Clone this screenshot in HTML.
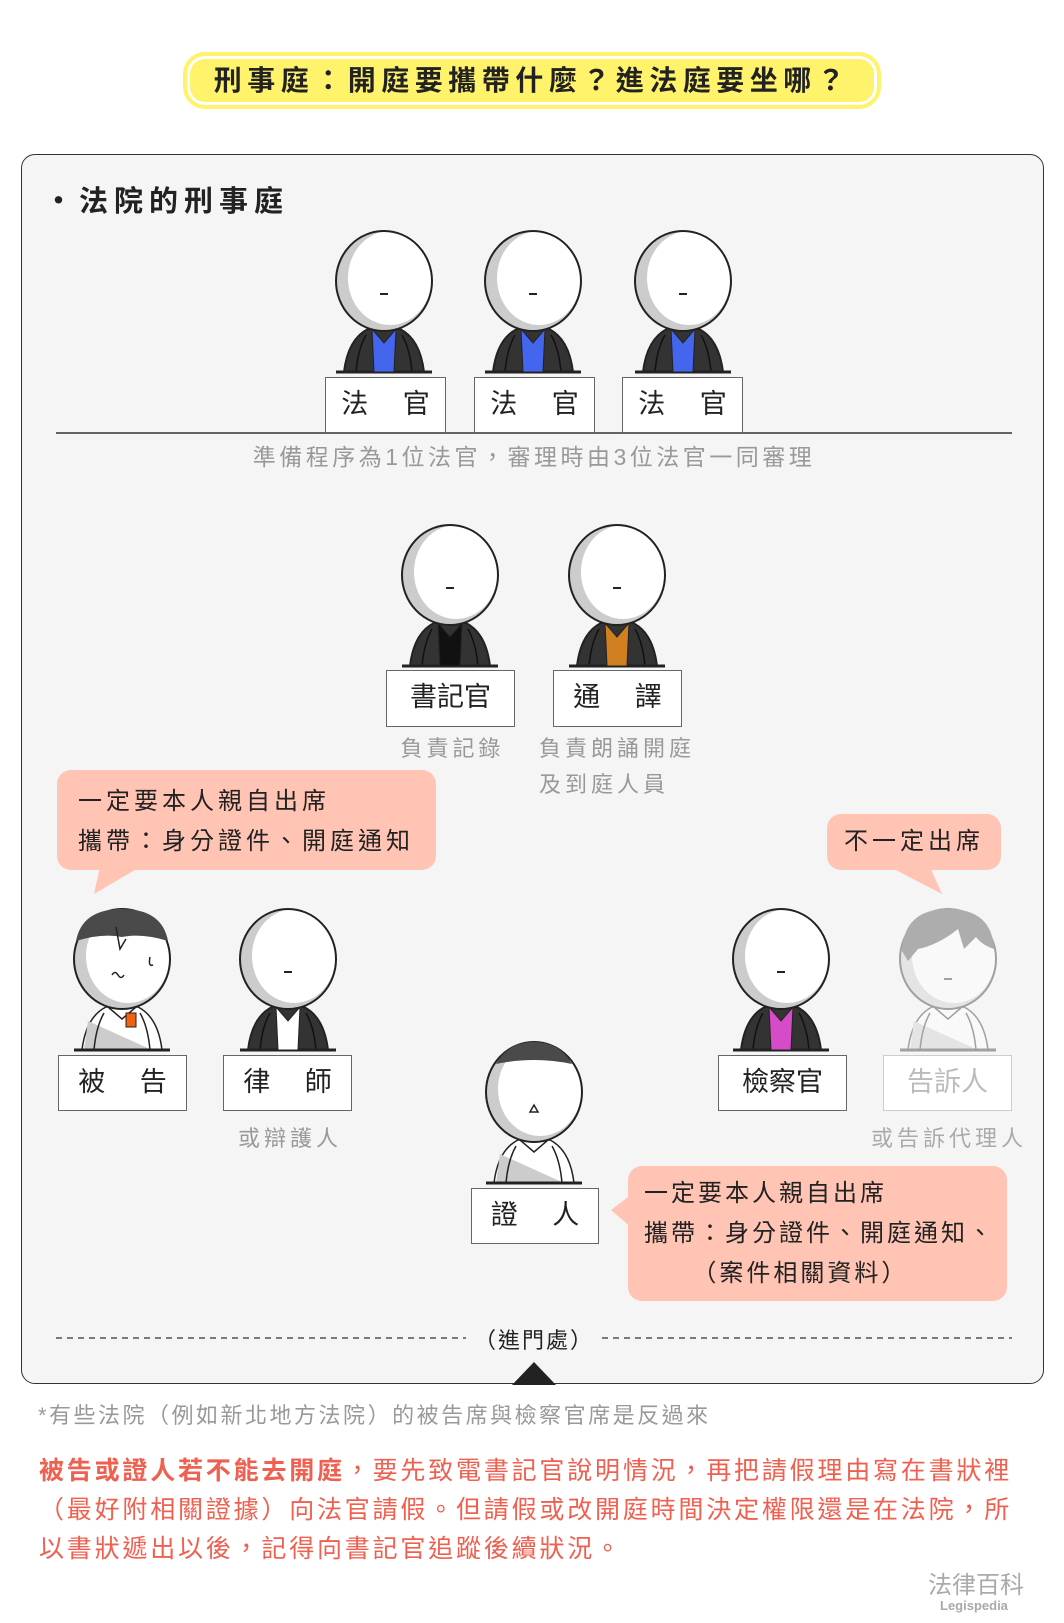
<!DOCTYPE html>
<html><head><meta charset="utf-8"><style>
body{margin:0;width:1064px;height:1623px;background:#fff;position:relative;font-family:"Liberation Sans","Noto Sans CJK TC",sans-serif;overflow:hidden}
.a{position:absolute;white-space:nowrap}
.title{left:183px;top:52px;width:698px;height:57px;box-sizing:border-box;background:#fff36b;border:4px solid #fff36b;border-radius:22px;box-shadow:inset 0 0 0 3px #fff;}
.title span{position:absolute;left:0;right:0;top:0;line-height:50px;text-align:center;font-size:28px;font-weight:bold;color:#222;letter-spacing:5.5px}
.card{left:21px;top:154px;width:1023px;height:1230px;box-sizing:border-box;background:#f5f5f5;border:1.5px solid #333;border-radius:14px}
.box{position:absolute;background:#fff;border:1.5px solid #666;box-sizing:border-box;font-size:27px;color:#222;text-align:center;line-height:52px}
.g{color:#999;font-size:22px;letter-spacing:4px}
.bub{position:absolute;background:#ffc4b4;border-radius:14px;font-size:24px;color:#222;letter-spacing:4px}
</style></head><body>
<div class="a title"><span>刑事庭：開庭要攜帶什麼？進法庭要坐哪？</span></div>
<div class="a card"></div>
<div class="a" style="left:44px;top:178px;font-size:29px;color:#222;letter-spacing:6px;font-weight:bold">・法院的刑事庭</div>

<svg class="a" style="left:0;top:0" width="1064" height="1623">
<defs>
<g id="head">
<ellipse cx="0" cy="50" rx="48" ry="50" fill="#ccc"/>
<ellipse cx="6" cy="47" rx="42" ry="47" fill="#fff"/>
<ellipse cx="0" cy="50" rx="48" ry="50" fill="none" stroke="#222" stroke-width="2"/>
</g>
<g id="robe">
<path d="M-40,141 Q-36,108 -16,98 L16,98 Q36,108 40,141 Z" fill="#333" stroke="#222" stroke-width="2"/>
<path d="M-28,141 Q-26,118 -18,104 M28,141 Q26,118 18,104" stroke="#111" stroke-width="1.5" fill="none"/>
<line x1="-48" y1="141" x2="48" y2="141" stroke="#222" stroke-width="3"/>
</g>
<g id="shirt">
<path d="M-40,141 Q-36,108 -16,98 L16,98 Q36,108 40,141 Z" fill="#fff" stroke="#222" stroke-width="1.5"/>
<path d="M-38,141 L-34,112 L30,141 Z" fill="#ccc"/>
<path d="M-28,141 Q-26,118 -18,104 M28,141 Q26,118 18,104 M-14,98 L0,110 L14,98" stroke="#222" stroke-width="1.5" fill="none"/>
<line x1="-48" y1="141" x2="48" y2="141" stroke="#222" stroke-width="3"/>
</g>
<g id="judge"><use href="#robe"/>
<path d="M-12,98 L0,112 L12,98 L10,141 L-10,141 Z" fill="#4466ee" stroke="#222" stroke-width="1"/>
<use href="#head"/><line x1="-4" y1="63" x2="4" y2="63" stroke="#222" stroke-width="2"/></g>
</defs>
<use href="#judge" x="384" y="231"/>
<use href="#judge" x="533" y="231"/>
<use href="#judge" x="683" y="231"/>
<line x1="56" y1="433" x2="1012" y2="433" stroke="#333" stroke-width="1.5"/>

<g transform="translate(450,525)"><use href="#robe"/>
<path d="M-12,98 L0,112 L12,98 L10,141 L-10,141 Z" fill="#111" stroke="#222"/>
<use href="#head"/><line x1="-4" y1="63" x2="4" y2="63" stroke="#222" stroke-width="2"/></g>
<g transform="translate(617,525)"><use href="#robe"/>
<path d="M-12,98 L0,112 L12,98 L10,141 L-10,141 Z" fill="#d08020" stroke="#222"/>
<use href="#head"/><line x1="-4" y1="63" x2="4" y2="63" stroke="#222" stroke-width="2"/></g>

<g transform="translate(122,909)"><use href="#shirt"/>
<rect x="4" y="104" width="10" height="14" fill="#f06010" stroke="#222"/>
<use href="#head"/>
<path d="M-46,32 Q-40,0 0,0 Q40,0 46,32 Q20,24 0,28 Q-20,24 -46,32 Z" fill="#4a4a4a"/>
<path d="M-6,18 L-2,40 L4,30" stroke="#222" fill="none" stroke-width="1.5"/>
<path d="M-10,66 q3,-5 6,0 q3,5 6,0" stroke="#222" fill="none" stroke-width="1.5"/>
<path d="M28,48 q-2,10 3,8" stroke="#222" fill="none" stroke-width="1.5"/></g>
<g transform="translate(288,909)"><use href="#robe"/>
<path d="M-12,98 L0,112 L12,98 L10,141 L-10,141 Z" fill="#fff" stroke="#222"/>
<use href="#head"/><line x1="-4" y1="63" x2="4" y2="63" stroke="#222" stroke-width="2"/></g>
<g transform="translate(781,909)"><use href="#robe"/>
<path d="M-12,98 L0,112 L12,98 L10,141 L-10,141 Z" fill="#d64cc8" stroke="#222"/>
<use href="#head"/><line x1="-4" y1="63" x2="4" y2="63" stroke="#222" stroke-width="2"/></g>
<g transform="translate(948,909)" opacity="0.4"><use href="#shirt"/><use href="#head"/>
<path d="M-46,42 Q-44,0 0,0 Q44,0 46,40 Q34,36 28,28 L16,40 L10,20 Q-10,36 -30,40 L-40,52 Z" fill="#444"/>
<line x1="-4" y1="70" x2="4" y2="70" stroke="#222" stroke-width="2"/></g>
<g transform="translate(534,1042)"><use href="#shirt"/><use href="#head"/>
<path d="M-38,22 Q-26,0 0,0 Q26,0 38,22 Q0,14 -38,22 Z" fill="#4a4a4a"/>
<path d="M-4,70 L0,63 L4,70 Z" fill="none" stroke="#222" stroke-width="1.5"/></g>

<path d="M100,867 L94,894 L140,867 Z" fill="#ffc4b4"/>
<path d="M890,867 L942,894 L930,867 Z" fill="#ffc4b4"/>
<path d="M632,1194 L611,1210 L632,1228 Z" fill="#ffc4b4"/>

<line x1="56" y1="1338" x2="466" y2="1338" stroke="#333" stroke-width="1.3" stroke-dasharray="6,5"/>
<line x1="602" y1="1338" x2="1012" y2="1338" stroke="#333" stroke-width="1.3" stroke-dasharray="6,5"/>
<path d="M534,1362 L512,1385 L556,1385 Z" fill="#222"/>
</svg>

<div class="box" style="left:325px;top:377px;width:121px;height:56px">法　 官</div>
<div class="box" style="left:474px;top:377px;width:121px;height:56px">法　 官</div>
<div class="box" style="left:622px;top:377px;width:121px;height:56px">法　 官</div>
<div class="a g" style="left:0;width:1068px;text-align:center;top:438px;font-size:23px;letter-spacing:3.5px">準備程序為1位法官，審理時由3位法官一同審理</div>

<div class="box" style="left:386px;top:670px;width:129px;height:57px">書記官</div>
<div class="box" style="left:553px;top:670px;width:129px;height:57px">通　 譯</div>
<div class="a g" style="left:386px;width:133px;text-align:center;top:731px">負責記錄</div>
<div class="a g" style="left:539px;top:731px;line-height:36px">負責朗誦開庭<br>及到庭人員</div>

<div class="bub" style="left:57px;top:770px;width:379px;height:100px"><div class="a" style="left:21px;top:12px;line-height:40px">一定要本人親自出席<br>攜帶：身分證件、開庭通知</div></div>
<div class="bub" style="left:827px;top:814px;width:174px;height:56px;text-align:center;line-height:56px">不一定出席</div>

<div class="box" style="left:58px;top:1055px;width:129px;height:56px">被　 告</div>
<div class="box" style="left:223px;top:1055px;width:129px;height:56px">律　 師</div>
<div class="a g" style="left:223px;width:134px;text-align:center;top:1121px">或辯護人</div>
<div class="box" style="left:718px;top:1055px;width:129px;height:56px">檢察官</div>
<div class="box" style="left:883px;top:1055px;width:129px;height:56px;color:#bbb;border-color:#ccc">告訴人</div>
<div class="a g" style="left:864px;width:170px;text-align:center;top:1121px;color:#aaa">或告訴代理人</div>

<div class="box" style="left:471px;top:1188px;width:128px;height:56px">證　 人</div>
<div class="bub" style="left:628px;top:1166px;width:379px;height:135px"><div class="a" style="left:16px;top:8px;line-height:40px;letter-spacing:3px">一定要本人親自出席<br>攜帶：身分證件、開庭通知、<br>&nbsp;&nbsp;&nbsp;&nbsp;&nbsp;（案件相關資料）</div></div>

<div class="a" style="left:0;width:1068px;text-align:center;top:1323px;font-size:22px;color:#222;letter-spacing:2px">（進門處）</div>

<div class="a g" style="left:38px;top:1398px;letter-spacing:2.5px">*有些法院（例如新北地方法院）的被告席與檢察官席是反過來</div>
<div class="a" style="left:39px;top:1452px;font-size:25px;line-height:39px;color:#f06050;letter-spacing:2.8px"><b>被告或證人若不能去開庭</b>，要先致電書記官說明情況，再把請假理由寫在書狀裡<br>（最好附相關證據）向法官請假。但請假或改開庭時間決定權限還是在法院，所<br>以書狀遞出以後，記得向書記官追蹤後續狀況。</div>
<div class="a" style="left:928px;top:1565px;font-size:24px;color:#aaa">法律百科</div>
<div class="a" style="left:940px;top:1598px;font-size:13px;color:#aaa;font-weight:bold">Legispedia</div>
</body></html>
